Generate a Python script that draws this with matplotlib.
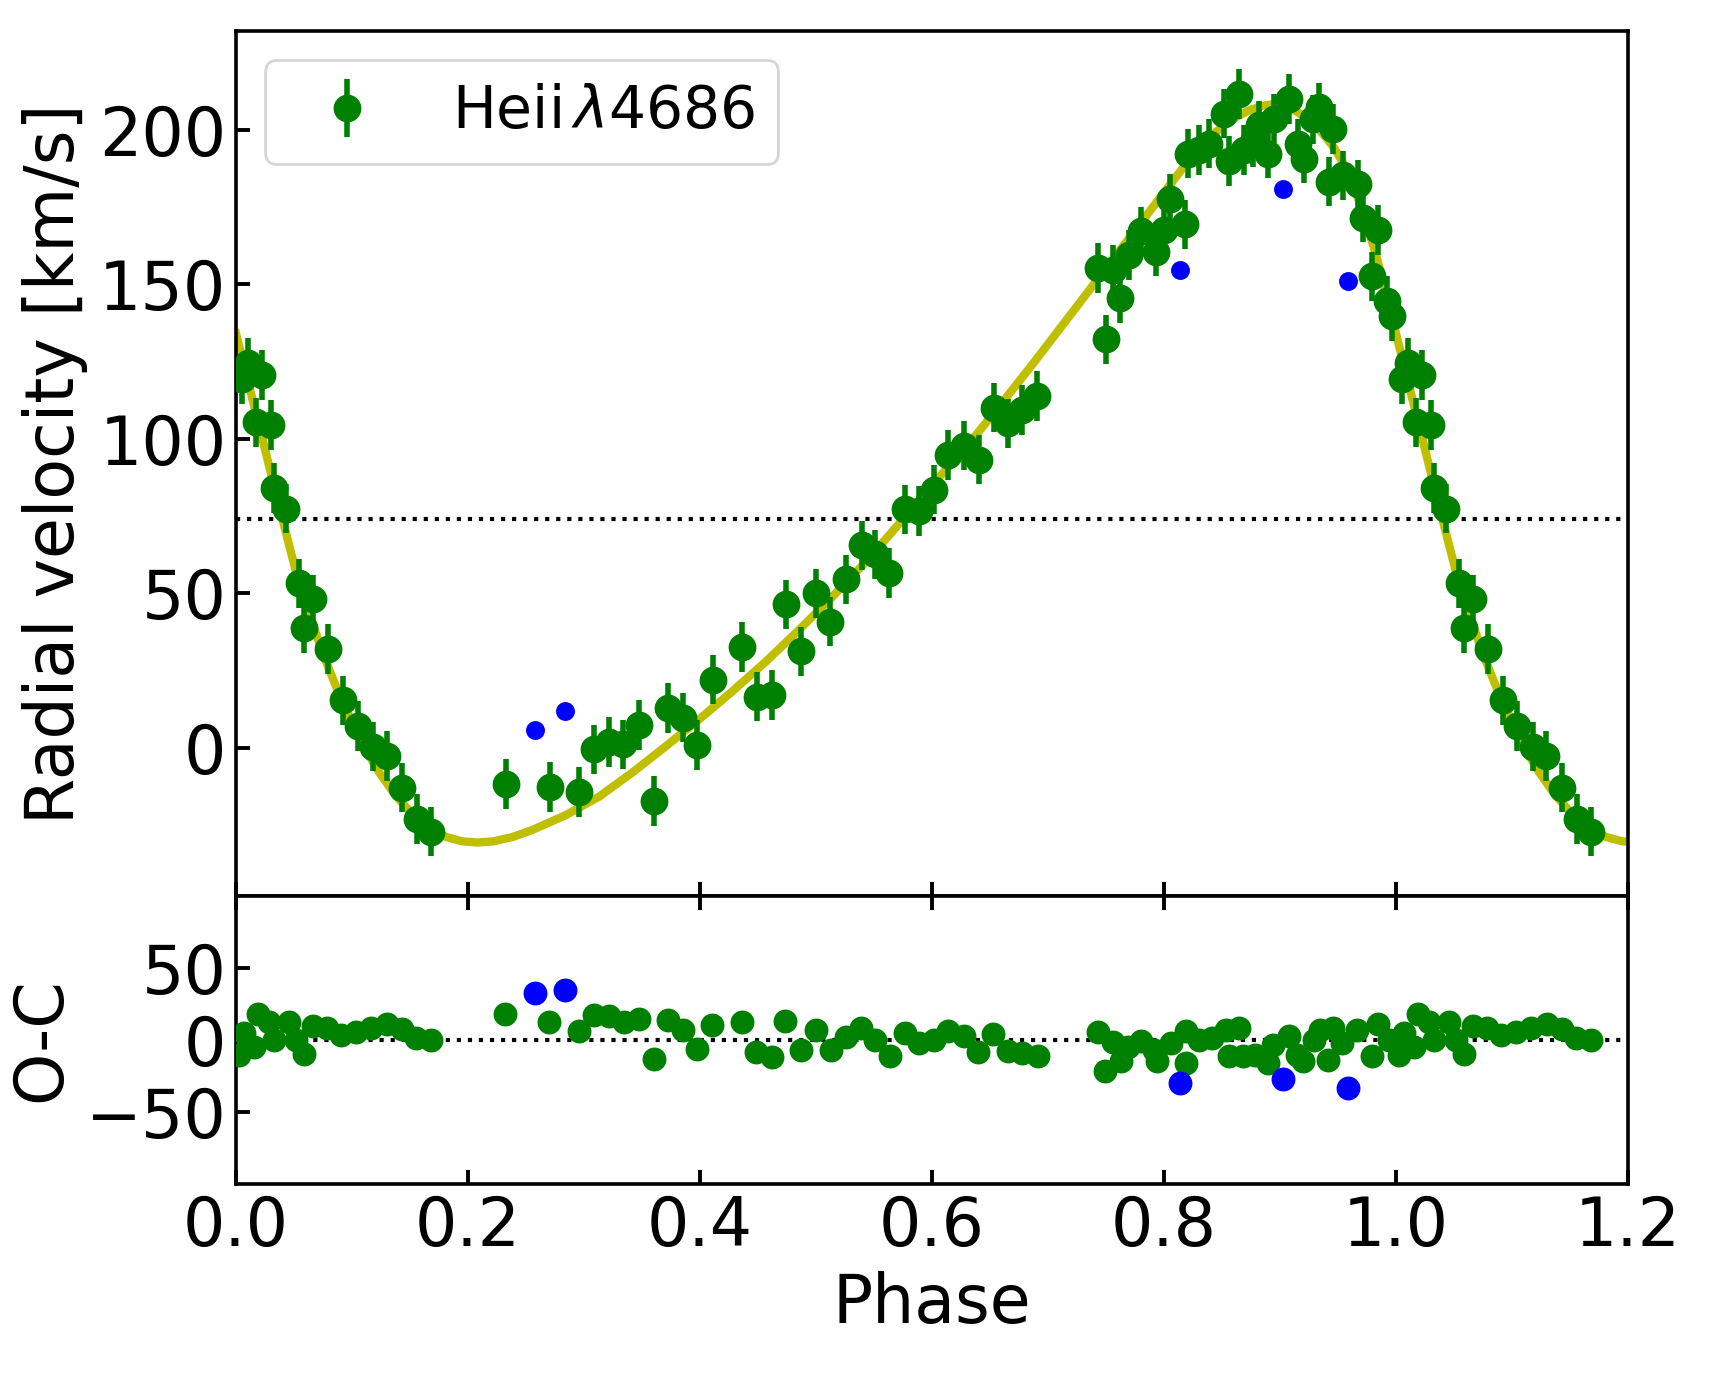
import numpy as np
import matplotlib
matplotlib.use("Agg")
import matplotlib.pyplot as plt

# -------------------------------------------------------------------------
# Data (phase 0-1, points with phase < 0.2 are repeated
# at phase + 1 when plotted)
# -------------------------------------------------------------------------
phase = [0.0051, 0.0099, 0.0172, 0.0223, 0.0300, 0.0329, 0.0430, 0.0545, 0.0588,
         0.0660, 0.0789, 0.0918, 0.1047, 0.1177, 0.1297, 0.1427, 0.1556, 0.1680,
         0.2327, 0.2706, 0.2959, 0.3088, 0.3217, 0.3340, 0.3470, 0.3599, 0.3720,
         0.3849, 0.3978, 0.4111, 0.4364, 0.4490, 0.4616, 0.4740, 0.4870, 0.4999,
         0.5122, 0.5258, 0.5392, 0.5510, 0.5631, 0.5766, 0.5890, 0.6019, 0.6134,
         0.6278, 0.6407, 0.6530, 0.6651, 0.6775, 0.6909, 0.7427, 0.7499, 0.7556,
         0.7622, 0.7700, 0.7800, 0.7930, 0.8002, 0.8053, 0.8183, 0.8203, 0.8303,
         0.8384, 0.8519, 0.8562, 0.8648, 0.8692, 0.8763, 0.8821, 0.8892, 0.8950,
         0.9073, 0.9151, 0.9203, 0.9280, 0.9332, 0.9418, 0.9453, 0.9539, 0.9668,
         0.9717, 0.9792, 0.9841, 0.9918, 0.9964]
rv = [119.3, 124.6, 105.3, 120.7, 104.4, 84.1, 77.4, 53.2, 38.7,
      48.0, 31.9, 15.3, 7.0, 0.3, -2.7, -12.9, -23.1, -27.2,
      -11.8, -12.7, -14.3, -0.5, 1.8, 1.1, 7.3, -17.2, 12.9,
      9.7, 0.9, 22.0, 32.6, 16.5, 17.0, 46.4, 31.2, 50.0,
      40.8, 54.5, 65.5, 62.6, 56.6, 77.1, 76.6, 83.5, 94.8,
      97.8, 93.2, 110.1, 105.0, 109.3, 113.9, 155.2, 132.2, 154.7,
      145.4, 159.5, 167.1, 160.6, 167.6, 177.6, 169.4, 192.3, 193.4,
      195.5, 205.2, 189.9, 211.6, 193.4, 196.1, 201.4, 192.3, 203.6,
      210.0, 195.5, 190.7, 203.4, 207.3, 183.2, 200.2, 185.3, 182.3,
      171.6, 152.6, 167.6, 144.7, 139.7]
rv_err = [8.0, 8.0, 8.0, 8.0, 8.0, 8.0, 8.0, 8.0, 8.0,
          8.0, 8.0, 8.0, 8.0, 8.0, 8.0, 8.0, 8.0, 8.0,
          8.0, 8.0, 8.0, 8.0, 8.0, 8.0, 8.0, 8.0, 8.0,
          8.0, 8.0, 8.0, 8.0, 8.0, 8.0, 8.0, 8.0, 8.0,
          8.0, 8.0, 8.0, 8.0, 8.0, 8.0, 8.0, 8.0, 8.0,
          8.0, 8.0, 8.0, 8.0, 8.0, 8.0, 8.0, 8.0, 8.0,
          8.0, 8.0, 8.0, 8.0, 8.0, 8.0, 8.0, 8.0, 8.0,
          8.0, 8.0, 8.0, 8.0, 8.0, 8.0, 8.0, 8.0, 8.0,
          8.0, 8.0, 8.0, 8.0, 8.0, 8.0, 8.0, 8.0, 8.0,
          8.0, 8.0, 8.0, 8.0, 8.0]

# rejected points (blue)
bad_phase = [0.2577, 0.2835, 0.8137, 0.9028, 0.9588]
bad_rv = [5.6, 11.8, 154.5, 181.0, 150.9]
bad_oc = [32.7, 34.7, -29.7, -26.9, -33.1]

# O-C residuals
oc_phase = [0.0022, 0.0070, 0.0151, 0.0192, 0.0280, 0.0328, 0.0456, 0.0520, 0.0585,
            0.0666, 0.0785, 0.0906, 0.1035, 0.1164, 0.1299, 0.1428, 0.1550, 0.1678,
            0.2322, 0.2701, 0.2959, 0.3087, 0.3216, 0.3345, 0.3473, 0.3602, 0.3721,
            0.3850, 0.3978, 0.4107, 0.4358, 0.4486, 0.4621, 0.4734, 0.4869, 0.5000,
            0.5129, 0.5258, 0.5386, 0.5505, 0.5637, 0.5766, 0.5891, 0.6020, 0.6136,
            0.6272, 0.6400, 0.6528, 0.6651, 0.6779, 0.6915, 0.7429, 0.7493, 0.7558,
            0.7628, 0.7686, 0.7799, 0.7912, 0.7937, 0.8056, 0.8185, 0.8190, 0.8298,
            0.8410, 0.8531, 0.8562, 0.8645, 0.8683, 0.8780, 0.8893, 0.8941, 0.9076,
            0.9150, 0.9198, 0.9289, 0.9343, 0.9417, 0.9456, 0.9536, 0.9665, 0.9793,
            0.9841, 0.9938]
oc = [-10.3, 4.6, -5.0, 18.3, 12.6, 0.0, 12.6, 0.0, -9.6,
      9.6, 8.0, 3.4, 5.7, 8.0, 11.4, 7.3, 1.1, 0.0,
      18.3, 12.6, 6.2, 17.1, 16.4, 12.6, 14.8, -13.2, 13.7,
      6.8, -6.4, 10.3, 12.6, -8.0, -12.1, 13.0, -6.8, 7.0,
      -6.8, 2.3, 8.0, 0.0, -11.4, 4.6, -2.3, 0.0, 6.4,
      2.7, -8.0, 4.1, -7.3, -9.1, -11.0, 5.7, -21.2, -1.1,
      -14.8, -5.0, -0.5, -6.8, -14.8, -2.3, -16.0, 6.4, 0.0,
      1.1, 6.8, -11.4, 8.0, -11.4, -10.3, -16.0, -3.4, 2.7,
      -10.3, -14.8, 0.0, 6.8, -13.7, 8.0, -2.3, 6.8, -11.4,
      11.4, 0.0]

# orbit fit curve
fit_phase = [0.000, 0.010, 0.020, 0.030, 0.040, 0.0516, 0.0631, 0.0746, 0.0861,
             0.0976, 0.109, 0.1234, 0.1378, 0.1522, 0.1666, 0.181, 0.195, 0.2082,
             0.2220, 0.2384, 0.2556, 0.2844, 0.3131, 0.3418, 0.3706, 0.3993, 0.428,
             0.4568, 0.4855, 0.5142, 0.543, 0.5717, 0.600, 0.6292, 0.658, 0.6866,
             0.7154, 0.7441, 0.7729, 0.8016, 0.8159, 0.8304, 0.8447, 0.859, 0.8734,
             0.885, 0.8965, 0.908, 0.9194, 0.930, 0.9396, 0.9469, 0.9539, 0.9611,
             0.9683, 0.9755, 0.9827, 0.990, 0.997, 1.000]
fit_rv = [134.0, 119.0, 104.0, 89.0, 74.0, 57.0, 43.5, 30.6, 19.9,
          10.2, 1.1, -8.0, -15.6, -21.6, -26.0, -28.9, -30.3, -30.7,
          -30.3, -28.9, -26.6, -21.8, -15.8, -8.0, 0.5, 9.2, 18.3,
          27.9, 38.2, 48.9, 60.2, 72.5, 85.0, 97.2, 110.5, 124.1,
          138.2, 152.3, 166.4, 180.5, 187.5, 194.0, 199.3, 203.5, 206.3,
          207.8, 208.4, 207.3, 204.7, 201.5, 197.5, 194.0, 189.6, 183.5,
          176.7, 168.5, 159.6, 149.0, 138.1, 134.0]

gamma = 74.0


def extend(x, y, cut=0.21):
    # repeat the start of the cycle after phase 1
    x, y = np.asarray(x), np.asarray(y)
    m = x < cut
    return np.concatenate([x, x[m] + 1]), np.concatenate([y, y[m] + 0])


# -------------------------------------------------------------------------
# Figure
# -------------------------------------------------------------------------
plt.rcParams['font.size'] = 24

fig = plt.figure(figsize=(8.565, 6.875), dpi=200)
gs = fig.add_gridspec(2, 1, height_ratios=[865, 288], hspace=0,
                      left=0.1378, right=0.9504, top=0.9775, bottom=0.1389)
ax1 = fig.add_subplot(gs[0])
ax2 = fig.add_subplot(gs[1], sharex=ax1)

fx, fy = extend(fit_phase, fit_rv, cut=0.23)
px, py = extend(phase, rv)
_, pe = extend(phase, rv_err)
ox, oy = extend(oc_phase, oc)

ax1.plot(fx, fy, '-', color='y', lw=3.0, zorder=1)
ax1.errorbar(px, py, yerr=pe, fmt='o', color='g', ms=9, elinewidth=2.0,
             capsize=0, label='Heii$\\,\\lambda$4686', zorder=3)
ax1.plot(bad_phase, bad_rv, 'o', color='b', ms=5.8, zorder=4)
ax1.axhline(gamma, ls=':', color='k', lw=1.5, zorder=2)
ax1.set_xlim(0, 1.2)
ax1.set_ylim(-48, 232)
ax1.set_ylabel('Radial velocity [km/s]')
ax1.legend(loc='upper left', fontsize=21)
ax1.tick_params(direction='in', length=5, width=1.4, labelbottom=False)

ax2.plot(ox, oy, 'o', color='g', ms=7.6, zorder=3)
ax2.plot(bad_phase, bad_oc, 'o', color='b', ms=7.6, zorder=4)
ax2.axhline(0, ls=':', color='k', lw=1.5, zorder=2)
ax2.set_ylim(-100, 100)
ax2.set_yticks([-50, 0, 50])
ax2.set_xticks([0.0, 0.2, 0.4, 0.6, 0.8, 1.0, 1.2])
ax2.set_xlabel('Phase')
ax2.set_ylabel('O-C')
ax2.tick_params(direction='in', length=5, width=1.4, top=True)

for ax in (ax1, ax2):
    for s in ax.spines.values():
        s.set_linewidth(1.3)

fig.savefig('out.png', dpi=200)
